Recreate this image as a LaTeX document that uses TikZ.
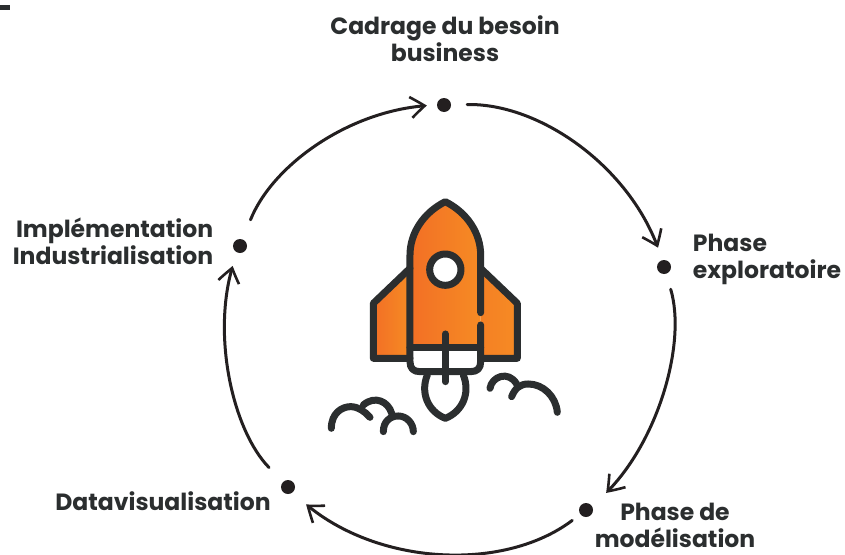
\documentclass[tikz,border=0pt]{standalone}
\usepackage{fontspec}
\setmainfont{Poppins}
\usetikzlibrary{arrows.meta,bending}
\definecolor{ink}{HTML}{231F20}
\definecolor{dark}{HTML}{2B2E2F}
\definecolor{oa}{HTML}{F26F25}
\definecolor{ob}{HTML}{F68B24}
\tikzset{
  dot/.style={circle,fill=ink,inner sep=0pt,minimum size=14pt},
  lab/.style={font=\fontsize{23.5}{27}\selectfont\bfseries,text=dark,align=center,inner sep=0pt},
  arc/.style={draw=ink,line width=3pt,line cap=round,-{Straight Barb[length=14pt,width=21pt,line width=2.6pt,bend]},looseness=.9},
  rk/.style={draw=dark,line width=7pt,line cap=round,line join=round}
}
\begin{document}
\begin{tikzpicture}[x=1pt,y=-1pt]
\useasboundingbox (0,0) rectangle (845,554);
\fill[dark] (0,5) rectangle (10,10);
\node[dot] (d1) at (444,105) {};
\node[dot] (d2) at (664,267) {};
\node[dot] (d3) at (586,510) {};
\node[dot] (d4) at (288,487) {};
\node[dot] (d5) at (240,246) {};
\draw[arc,shorten <=16pt,shorten >=13pt] (d1) to[bend left=37.5] (d2);
\draw[arc,shorten <=16pt,shorten >=19pt,looseness=.82] (d2) to[bend left=34.5] (d3);
\draw[arc,shorten <=10pt,shorten >=18pt] (d3) to[bend left=41.5] (d4);
\draw[arc,shorten <=20pt,shorten >=14pt,looseness=.84] (d4) to[bend left=33] (d5);
\draw[arc,shorten <=21pt,shorten >=10pt] (d5) to[bend left=33.5] (d1);
\node[lab] (t1) at (445,39) {Cadrage du besoin\\business};
\node[lab,align=left] (t2) at (767,259) {Phase\\exploratoire};
\node[lab] (t3) at (675,525) {Phase de\\modélisation};
\node[lab] (t4) at (163,501) {Datavisualisation};
\node[lab,align=right] (t5) at (113,241) {Implémentation\\Industrialisation};
\begin{scope}[shift={(320,180)},x=.3333pt,y=-.3333pt]
\shade[left color=oa,right color=ob] (270,265) -- (160,370) -- (160,535) -- (270,535) -- cycle;
\shade[left color=ob!60!oa,right color=ob] (482,265) -- (592,370) -- (592,535) -- (482,535) -- cycle;
\shade[left color=oa,right color=ob] (376,65) .. controls (310,98) and (270,160) .. (270,225) -- (270,503) -- (482,503) -- (482,225) .. controls (482,160) and (442,98) .. (376,65) -- cycle;
\draw[rk] (270,265) -- (160,370) -- (160,535) -- (270,535);
\draw[rk] (482,265) -- (592,370) -- (592,535) -- (482,535);
\draw[rk] (482,398) -- (482,225) .. controls (482,160) and (442,98) .. (376,65) .. controls (310,98) and (270,160) .. (270,225) -- (270,545) .. controls (270,565) and (280,575) .. (300,575) -- (452,575) .. controls (472,575) and (482,565) .. (482,545) -- (482,435);
\draw[rk] (270,503) -- (482,503);
\draw[rk] (376,462) -- (376,605);
\draw[rk,fill=white] (376,269) circle[radius=47];
\draw[rk] (322,585) .. controls (300,640) and (325,695) .. (376,715) .. controls (427,695) and (452,640) .. (430,585);
\draw[rk] (34,745) .. controls (34,700) and (65,680) .. (92,680) .. controls (115,680) and (135,695) .. (150,712);
\draw[rk] (130,675) .. controls (165,645) and (205,665) .. (215,700);
\draw[rk] (190,755) .. controls (190,725) and (210,708) .. (235,708) .. controls (260,708) and (280,730) .. (280,755);
\draw[rk] (510,625) .. controls (515,590) and (565,570) .. (590,612);
\draw[rk] (575,650) .. controls (585,625) and (600,612) .. (625,612) .. controls (670,612) and (708,650) .. (712,697);
\end{scope}
\end{tikzpicture}
\end{document}
